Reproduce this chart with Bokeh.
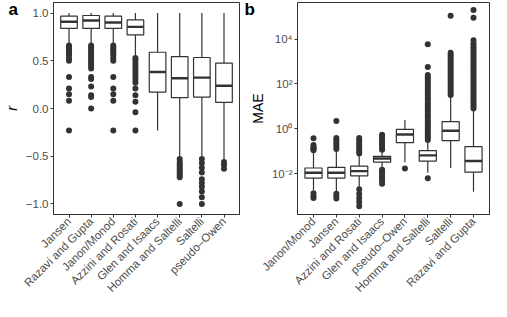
import math
from bokeh.plotting import figure
from bokeh.layouts import row
from bokeh.models import (ColumnDataSource, FactorRange, Range1d, FixedTicker)
from bokeh.embed import file_html
from bokeh.resources import INLINE

# ---------------- Panel a: correlation r ----------------
cats_a = ["Jansen", "Razavi and Gupta", "Janon/Monod", "Azzini and Rosati",
          "Glen and Isaacs", "Homma and Saltelli", "Saltelli", "pseudo\u2013Owen"]
q1_a = [0.839, 0.839, 0.839, 0.770, 0.172, 0.113, 0.120, 0.064]
med_a = [0.908, 0.921, 0.900, 0.855, 0.383, 0.317, 0.323, 0.238]
q3_a = [0.967, 0.974, 0.967, 0.928, 0.589, 0.543, 0.534, 0.475]
wlo_a = [0.68, 0.68, 0.68, 0.55, -0.23, -0.50, -0.50, -0.53]
whi_a = [1.0, 1.0, 1.0, 1.0, 1.0, 1.0, 1.0, 1.0]
out_jansen_a = [0.66, 0.64, 0.62, 0.60, 0.58, 0.56, 0.53, 0.50, 0.33, 0.21, 0.15, 0.08, -0.23]
out_razavi_a = [0.66, 0.64, 0.62, 0.60, 0.58, 0.56, 0.54, 0.52, 0.50, 0.48, 0.46, 0.44,
                0.42, 0.33, 0.31, 0.23, 0.14, 0.12, 0.0]
out_janon_a = [0.66, 0.64, 0.62, 0.60, 0.58, 0.56, 0.53, 0.50, 0.33, 0.21, 0.15, 0.08, -0.23]
out_azzini_a = [0.53, 0.51, 0.48, 0.45, 0.42, 0.39, 0.36, 0.33, 0.30, 0.27, 0.21, 0.14,
                0.07, -0.04, -0.23]
out_glen_a = []
out_homma_a = [-0.53, -0.56, -0.58, -0.60, -0.62, -0.64, -0.66, -0.68, -0.70, -0.72, -1.0]
out_saltelli_a = [-0.53, -0.57, -0.62, -0.67, -0.74, -0.78, -0.82, -0.87, -0.93, -1.0]
out_owen_a = [-0.56, -0.59, -0.63]
outliers_a = [out_jansen_a, out_razavi_a, out_janon_a, out_azzini_a,
              out_glen_a, out_homma_a, out_saltelli_a, out_owen_a]
ticks_a = [-1.0, -0.5, 0.0, 0.5, 1.0]
tick_labels_a = ["\u22121.0", "\u22120.5", "0.0", "0.5", "1.0"]

# ---------------- Panel b: MAE (log scale) ----------------
cats_b = ["Janon/Monod", "Jansen", "Azzini and Rosati", "Glen and Isaacs",
          "pseudo\u2013Owen", "Homma and Saltelli", "Saltelli", "Razavi and Gupta"]
q1_b = [0.00635, 0.00635, 0.0079, 0.0324, 0.24, 0.0366, 0.30, 0.0117]
med_b = [0.0110, 0.0110, 0.0130, 0.0474, 0.557, 0.0656, 0.82, 0.0366]
q3_b = [0.0179, 0.0191, 0.0219, 0.0596, 0.94, 0.107, 2.11, 0.162]
wlo_b = [0.00186, 0.00158, 0.00257, 0.0178, 0.032, 0.011, 0.0178, 0.00158]
whi_b = [0.107, 0.107, 0.066, 0.098, 2.48, 0.24, 28.0, 7.2]
out_janon_b = [0.38, 0.19, 0.16, 0.14, 0.126, 0.112, 0.00135, 0.00102, 0.00083]
out_jansen_b = [2.25, 0.39, 0.32, 0.25, 0.20, 0.16, 0.126, 0.00126, 0.00098, 0.00078]
out_azzini_b = [0.39, 0.32, 0.25, 0.20, 0.16, 0.126, 0.10, 0.079,
                0.0020, 0.00126, 0.00083, 0.00054, 0.00035]
out_glen_b = [0.54, 0.45, 0.355, 0.28, 0.224, 0.178, 0.141, 0.115,
              0.0151, 0.0126, 0.010, 0.0079, 0.0063, 0.0050, 0.00355]
out_owen_b = [0.0168]
out_homma_b = [0.0062, 0.32, 0.40, 0.50, 0.63, 0.79, 1.0, 1.26, 1.58, 2.0, 2.5, 3.2, 4.0,
               5.0, 6.3, 7.9, 10, 12.6, 15.8, 20, 25, 32, 40, 50, 63, 79, 100, 126,
               158, 200, 251, 575, 5900]
out_saltelli_b = [32, 40, 50, 63, 79, 100, 126, 158, 200, 251, 316, 398, 501, 631, 794,
                  1000, 1260, 1580, 2000, 2450, 110000]
out_razavi_b = [8, 10, 12.6, 15.8, 20, 25, 32, 40, 50, 63, 79, 100, 126, 158, 200, 251,
                316, 398, 501, 631, 794, 1000, 1260, 1580, 2000, 2510, 3160, 3980, 5010,
                6310, 8910, 89000, 200000]
outliers_b = [out_janon_b, out_jansen_b, out_azzini_b, out_glen_b,
              out_owen_b, out_homma_b, out_saltelli_b, out_razavi_b]
ticks_b = [0.01, 1.0, 100.0, 10000.0]
tick_labels_b = ["10\u207b\u00b2", "10\u2070", "10\u00b2", "10\u2074"]

DARK = "#333333"
GREY = "#4D4D4D"
FONT = "Liberation Sans"
H = 301
FT = 2
FB = 86


def style(p, tag, offset):
    p.outline_line_color = DARK
    p.outline_line_width = 1
    p.outline_line_alpha = 1
    p.xgrid.visible = False
    p.ygrid.visible = False
    for ax in (p.xaxis[0], p.yaxis[0]):
        ax.axis_line_color = DARK
        ax.major_tick_line_color = DARK
        ax.major_tick_out = 3
        ax.major_tick_in = 0
        ax.minor_tick_line_color = None
        ax.major_label_text_font = FONT
        ax.major_label_text_font_size = "11.5px"
        ax.major_label_text_color = GREY
        ax.major_label_standoff = 2
        ax.axis_label_text_font = FONT
        ax.axis_label_text_font_size = "14px"
        ax.axis_label_text_font_style = "normal"
        ax.axis_label_text_color = "black"
        ax.axis_label_standoff = 3
    p.xaxis.major_label_orientation = math.pi / 4
    # panel tag ("a"/"b") drawn as the title, pulled down beside the frame
    p.title.text = tag
    p.title.align = "left"
    p.title.offset = offset
    p.title.standoff = -32
    p.title.vertical_align = "bottom"
    p.title.text_font = FONT
    p.title.text_font_style = "bold"
    p.title.text_font_size = "17px"
    p.title.text_color = "black"


def boxes(p, cats, q1, med, q3, wlo, whi, outs):
    src = ColumnDataSource(dict(cat=cats, q1=q1, med=med, q3=q3, wlo=wlo, whi=whi))
    p.segment(x0="cat", y0="q3", x1="cat", y1="whi", source=src,
              line_color=DARK, line_width=1.2)
    p.segment(x0="cat", y0="q1", x1="cat", y1="wlo", source=src,
              line_color=DARK, line_width=1.2)
    xs, ys = [], []
    for c, vals in zip(cats, outs):
        for v in vals:
            xs.append(c)
            ys.append(v)
    p.scatter(x=xs, y=ys, size=6, fill_color=DARK, line_color=None)
    p.vbar(x="cat", width=0.75, bottom="q1", top="q3", source=src,
           fill_color="white", line_color=DARK, line_width=1.2)
    p.rect(x="cat", y="med", width=0.75, height=2.4, height_units="screen",
           source=src, fill_color=DARK, line_color=None)


# Panel a
pa = figure(width=243, height=H, output_backend="svg", toolbar_location=None,
            title="a",
            x_range=FactorRange(factors=cats_a, range_padding=0.2,
                                range_padding_units="absolute"),
            y_range=Range1d(-1.11, 1.11),
            min_border_left=46, min_border_right=4, min_border_top=FT,
            min_border_bottom=FB)
style(pa, "a", -45)
boxes(pa, cats_a, q1_a, med_a, q3_a, wlo_a, whi_a, outliers_a)
pa.yaxis.ticker = FixedTicker(ticks=ticks_a)
pa.yaxis.major_label_overrides = {t: l for t, l in zip(ticks_a, tick_labels_a)}
pa.yaxis.axis_label = "r"
pa.yaxis.axis_label_text_font_style = "italic"

# Panel b
pb = figure(width=248, height=H, output_backend="svg", toolbar_location=None,
            title="b",
            x_range=FactorRange(factors=cats_b, range_padding=0.2,
                                range_padding_units="absolute"),
            y_axis_type="log", y_range=Range1d(10 ** -3.82, 10 ** 5.63),
            min_border_left=54, min_border_right=2, min_border_top=FT,
            min_border_bottom=FB)
style(pb, "b", -53)
boxes(pb, cats_b, q1_b, med_b, q3_b, wlo_b, whi_b, outliers_b)
pb.yaxis.ticker = FixedTicker(ticks=ticks_b, minor_ticks=[])
pb.yaxis.major_label_overrides = {t: l for t, l in zip(ticks_b, tick_labels_b)}
pb.yaxis.axis_label = "MAE"

layout = row(pa, pb)
open("out.html", "w").write(file_html(layout, INLINE))
